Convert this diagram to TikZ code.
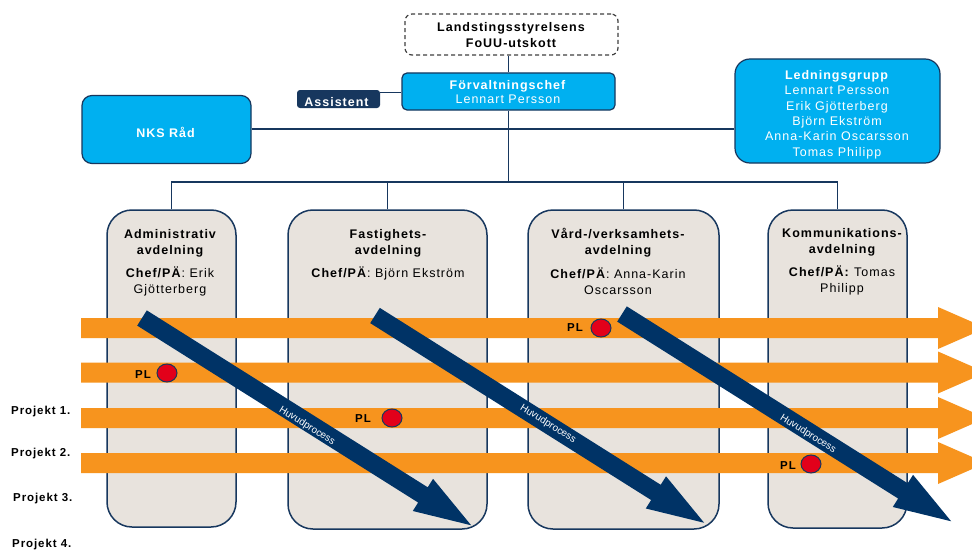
\documentclass[tikz,border=0pt]{standalone}
\usepackage{fontspec}
\setmainfont{Liberation Sans}[LetterSpace=8]
\newfontfamily\plainsans{Liberation Sans}
\usetikzlibrary{shapes.geometric}
\definecolor{cyanfill}{HTML}{00B0F0}
\definecolor{navyline}{HTML}{17375E}
\definecolor{navyarrow}{HTML}{003366}
\definecolor{orangebar}{HTML}{F7941E}
\definecolor{beige}{HTML}{E8E3DD}
\definecolor{plred}{HTML}{E2001A}
\begin{document}
\begin{tikzpicture}[x=1pt,y=-1pt,
  conn/.style={draw=navyline, line width=1.5pt},
  cbox/.style={draw=navyline, fill=cyanfill, line width=1.2pt, inner sep=0pt},
  deptbox/.style={draw=navyline, fill=beige, line width=1.5pt, rounded corners=25pt, inner sep=0pt},
  wtext/.style={text=white, align=center, inner sep=0pt, font=\fontsize{12.5}{15.4}\selectfont},
  btext/.style={text=black, align=center, inner sep=0pt, font=\fontsize{12.5}{16}\selectfont},
  dtitle/.style={text=black, align=center, inner sep=0pt, font=\bfseries\fontsize{12.5}{16}\selectfont},
  hptext/.style={text=white, inner sep=0pt, rotate=-32.2, font=\plainsans\fontsize{10}{11}\selectfont},
  pltext/.style={text=black, inner sep=0pt, font=\bfseries\fontsize{11.5}{13}\selectfont},
  pldot/.style={ellipse, draw=navyline, fill=plred, line width=1pt, minimum width=20pt, minimum height=18pt, inner sep=0pt},
  projtext/.style={text=black, anchor=west, inner sep=0pt, font=\bfseries\fontsize{11.5}{13}\selectfont}]
\useasboundingbox (0,0) rectangle (972,551);
\clip (0,0) rectangle (972,551);
\fill[white] (0,0) rectangle (972,551);

% top boxes
\node[draw=black!75, dashed, dash pattern=on 4pt off 3pt, line width=1.2pt, fill=white, rounded corners=7pt,
      minimum width=213pt, minimum height=41pt, inner sep=0pt] (fou) at (511.5,34.5) {};
\node[dtitle] (fout) at (511,35) {Landstingsstyrelsens\\FoUU-utskott};

\node[cbox, rounded corners=5pt, minimum width=213pt, minimum height=37pt] (fc) at (508.5,91.5) {};
\node[wtext, font=\fontsize{12.5}{14}\selectfont] (fct) at (508,92) {\textbf{Förvaltningschef}\\Lennart Persson};

\node[fill=navyline, rounded corners=3pt, minimum width=83pt, minimum height=18pt, inner sep=0pt] (ast) at (338.5,99) {};
\node[wtext] (astt) at (337,102) {\textbf{Assistent}};

\node[cbox, rounded corners=10pt, minimum width=169pt, minimum height=68pt] (nks) at (166.5,129.5) {};
\node[wtext] (nkst) at (166,132) {\textbf{NKS Råd}};

\node[cbox, rounded corners=15pt, minimum width=205pt, minimum height=104pt] (led) at (837.5,111) {};
\node[wtext] (ledt) at (837,114.5) {\textbf{Ledningsgrupp}\\Lennart Persson\\Erik Gjötterberg\\Björn Ekström\\Anna-Karin Oscarsson\\Tomas Philipp};

% departments
\node[deptbox, minimum width=129pt, minimum height=317pt] (adm) at (171.5,368.5) {};
\node[deptbox, minimum width=199pt, minimum height=319pt] (fast) at (387.5,369.5) {};
\node[deptbox, minimum width=191pt, minimum height=319pt] (vard) at (623.5,369.5) {};
\node[deptbox, minimum width=139pt, minimum height=318pt] (komm) at (837.5,369) {};

\node[dtitle] (admt) at (170,243) {Administrativ\\avdelning};
\node[btext] (admc) at (170,281) {\textbf{Chef/PÄ}: Erik\\Gjötterberg};
\node[dtitle] (fastt) at (388,243) {Fastighets-\\avdelning};
\node[btext] (fastc) at (388,273) {\textbf{Chef/PÄ}: Björn Ekström};
\node[dtitle] (vardt) at (618,243) {Vård-/verksamhets-\\avdelning};
\node[btext] (vardc) at (618,281) {\textbf{Chef/PÄ}: Anna-Karin\\Oscarsson};
\node[dtitle] (kommt) at (842,242) {Kommunikations-\\avdelning};
\node[btext] (kommc) at (842,280) {\textbf{Chef/PÄ:} Tomas\\Philipp};

% connectors
\coordinate (bus) at (fc.south |- 0,182);
\coordinate (aj) at (380,92.5);
\draw[conn] (fc.north |- fou.south) -- (fc.north);
\draw[conn] (aj) -- (aj -| fc.west);
\draw[conn] (nks.east |- 0,129) -- (led.west |- 0,129);
\draw[conn] (fc.south) -- (bus);
\draw[conn] (adm.north) |- (bus) -| (komm.north);
\draw[conn] (fast.north) -- (fast.north |- bus);
\draw[conn] (vard.north) -- (vard.north |- bus);

% orange project arrows
\foreach \c in {328,372.5,418,463}{
  \fill[orangebar] (81,\c-10) -- (938,\c-10) -- (938,\c-21) -- (986,\c) -- (938,\c+21) -- (938,\c+10) -- (81,\c+10) -- cycle;
}

% navy main process arrows
\foreach \tx/\ty in {142/318, 375/315.5, 622/314}{
  \fill[navyarrow, shift={(\tx,\ty)}, rotate=-32.2] (0,-9) -- (332,-9) -- (332,-19) -- (389,0) -- (332,19) -- (332,9) -- (0,9) -- cycle;
}
\node[hptext] (hp1) at (307,426) {Huvudprocess};
\node[hptext] (hp2) at (548,424) {Huvudprocess};
\node[hptext] (hp3) at (808,434) {Huvudprocess};

% PL markers
\node[pltext] (pl1) at (575,328) {PL};
\node[pldot] (d1) at (601,328) {};
\node[pltext] (pl2) at (143,375) {PL};
\node[pldot] (d2) at (167,373) {};
\node[pltext] (pl3) at (363,419) {PL};
\node[pldot] (d3) at (392,418) {};
\node[pltext] (pl4) at (788,466) {PL};
\node[pldot] (d4) at (811,464) {};

% project labels
\node[projtext] (p1) at (11,412) {Projekt 1.};
\node[projtext] (p2) at (11,454) {Projekt 2.};
\node[projtext] (p3) at (13,499) {Projekt 3.};
\node[projtext] (p4) at (12,545) {Projekt 4.};
\end{tikzpicture}
\end{document}
